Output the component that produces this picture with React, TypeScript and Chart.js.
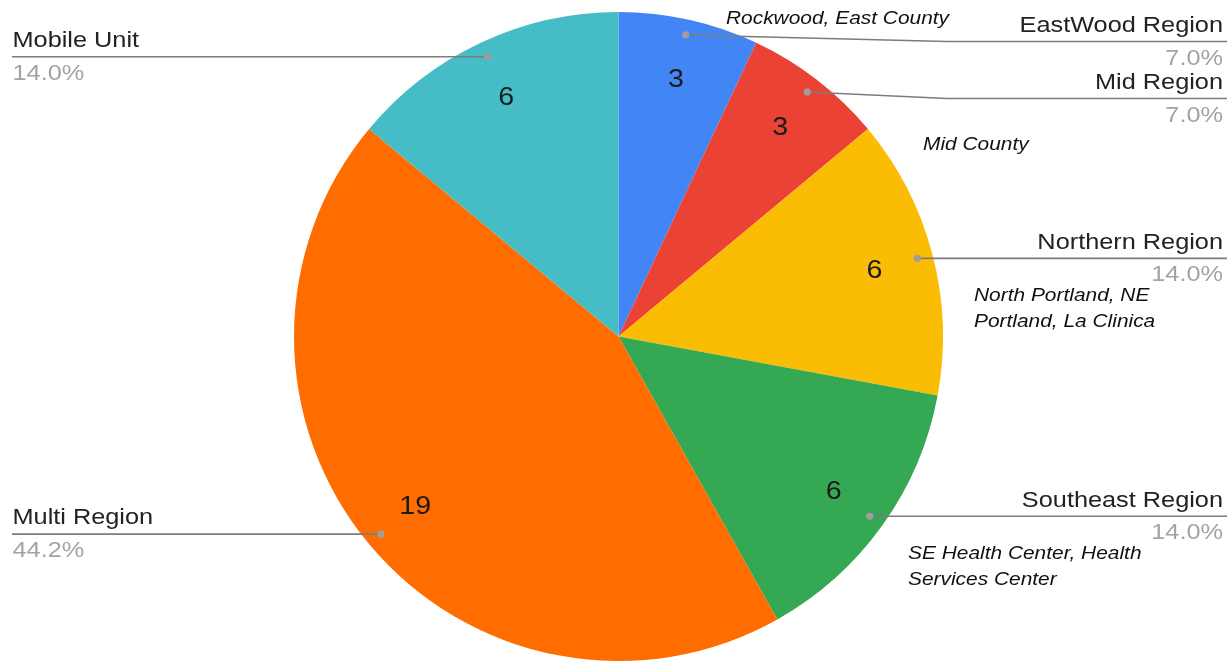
import React, { useEffect, useRef } from "react";
import { Chart, registerables } from "chart.js";

Chart.register(...registerables);

const categories = ["EastWood Region", "Mid Region", "Northern Region", "Southeast Region", "Multi Region", "Mobile Unit"];
const values = [3, 3, 6, 6, 19, 6];
const sliceColors = ["#4285F4", "#EA4335", "#FBBC04", "#34A853", "#FF6D01", "#46BDC6"];
const noteTexts = [
  ["Rockwood, East County"],
  ["Mid County"],
  ["North Portland, NE", "Portland, La Clinica"],
  ["SE Health Center, Health", "Services Center"],
];

// layout (not data)
const W = 1229;
const H = 662;
const notePos = [
  { x: 726, y: 24 },
  { x: 923, y: 150 },
  { x: 974, y: 301 },
  { x: 908, y: 559 },
];
const LABEL_FONT = "22px 'Liberation Sans', Arial, sans-serif";
const NUM_FONT = "26px 'Liberation Sans', Arial, sans-serif";
const NOTE_FONT = "italic 19px 'Liberation Sans', Arial, sans-serif";

function stretchedText(
  ctx: CanvasRenderingContext2D,
  text: string,
  x: number,
  y: number,
  align: CanvasTextAlign,
  font: string,
  color: string,
  sx: number
) {
  ctx.save();
  ctx.translate(x, y);
  ctx.scale(sx, 1);
  ctx.font = font;
  ctx.fillStyle = color;
  ctx.textAlign = align;
  ctx.textBaseline = "alphabetic";
  ctx.fillText(text, 0, 0);
  ctx.restore();
}

const labelPlugin = {
  id: "googleLabels",
  afterDraw(chart: any) {
    const ctx: CanvasRenderingContext2D = chart.ctx;
    const meta = chart.getDatasetMeta(0);
    const data: number[] = chart.data.datasets[0].data;
    const total = data.reduce((a, b) => a + b, 0);
    type Item = { i: number; dx: number; dy: number; right: boolean; lineY: number };
    const items: Item[] = [];
    meta.data.forEach((arc: any, i: number) => {
      const p = arc.getProps(["x", "y", "startAngle", "endAngle", "outerRadius"], true);
      const mid = (p.startAngle + p.endAngle) / 2;
      const r = p.outerRadius;
      // inner value
      const nx = p.x + Math.cos(mid) * r * 0.815;
      const ny = p.y + Math.sin(mid) * r * 0.815;
      ctx.save();
      ctx.translate(nx, ny);
      ctx.scale(1.1, 1);
      ctx.font = NUM_FONT;
      ctx.fillStyle = "#1a1a1a";
      ctx.textAlign = "center";
      ctx.textBaseline = "middle";
      ctx.fillText(String(data[i]), 0, 1);
      ctx.restore();
      const dx = p.x + Math.cos(mid) * r * 0.952;
      const dy = p.y + Math.sin(mid) * r * 0.952;
      items.push({ i, dx, dy, right: Math.cos(mid) >= 0, lineY: dy });
    });
    for (const side of [true, false]) {
      const list = items.filter((it) => it.right === side).sort((a, b) => a.dy - b.dy);
      let prev = -Infinity;
      for (const it of list) {
        it.lineY = Math.max(it.dy, prev + 57, 41.5);
        prev = it.lineY;
      }
    }
    for (const it of items) {
      const pct = ((data[it.i] / total) * 100).toFixed(1) + "%";
      ctx.save();
      ctx.strokeStyle = "#7c7c7c";
      ctx.lineWidth = 1.6;
      ctx.beginPath();
      ctx.moveTo(it.dx, it.dy);
      if (it.right) {
        const bendX = Math.max(it.dx, 947);
        ctx.lineTo(bendX, it.lineY);
        ctx.lineTo(W - 2, it.lineY);
      } else {
        const bendX = Math.min(it.dx, 300);
        ctx.lineTo(bendX, it.lineY);
        ctx.lineTo(12, it.lineY);
      }
      ctx.stroke();
      ctx.fillStyle = "#9e9e9e";
      ctx.beginPath();
      ctx.arc(it.dx, it.dy, 3.6, 0, Math.PI * 2);
      ctx.fill();
      ctx.restore();
      if (it.right) {
        stretchedText(ctx, categories[it.i], W - 6, it.lineY - 9.5, "right", LABEL_FONT, "#222222", 1.15);
        stretchedText(ctx, pct, W - 6, it.lineY + 23, "right", LABEL_FONT, "#a3a3a3", 1.15);
      } else {
        stretchedText(ctx, categories[it.i], 12.5, it.lineY - 10, "left", LABEL_FONT, "#222222", 1.15);
        stretchedText(ctx, pct, 12.5, it.lineY + 23, "left", LABEL_FONT, "#a3a3a3", 1.15);
      }
    }
    noteTexts.forEach((lines, k) => {
      lines.forEach((t, j) => {
        stretchedText(ctx, t, notePos[k].x, notePos[k].y + j * 25.5, "left", NOTE_FONT, "#111111", 1.1);
      });
    });
  },
};

export default function App() {
  const ref = useRef<HTMLCanvasElement | null>(null);
  useEffect(() => {
    if (!ref.current) return;
    const chart = new Chart(ref.current, {
      type: "pie",
      data: {
        labels: categories,
        datasets: [
          {
            data: values,
            backgroundColor: sliceColors,
            borderWidth: 0,
          },
        ],
      },
      options: {
        responsive: false,
        animation: false,
        layout: { padding: { left: 294, right: W - 294 - 649, top: 12, bottom: H - 12 - 649 } },
        plugins: {
          legend: { display: false },
          tooltip: { enabled: false },
        },
      },
      plugins: [labelPlugin],
    });
    return () => chart.destroy();
  }, []);
  return (
    <div style={{ position: "fixed", left: 0, top: 0, width: W, height: H, background: "#fff" }}>
      <canvas ref={ref} width={W} height={H} style={{ display: "block", width: W, height: H }} />
    </div>
  );
}
